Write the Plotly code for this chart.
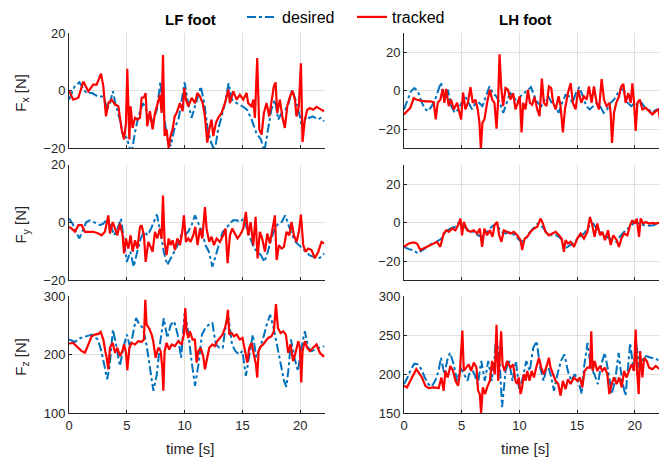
import plotly.graph_objects as go

# ---------------- data ----------------
# LF foot, Fx
lf_fx_des_t = [0,0.5,0.9,1.2,1.5,2.0,2.5,3.0,3.3,3.5,3.8,4.0,4.4,4.7,5.0,5.4,5.7,6.0,6.4,6.8,7.2,7.6,7.9,8.2,8.5,8.8,9.1,9.5,9.8,10.0,10.3,10.6,10.9,11.2,11.4,11.7,12.0,12.3,12.6,12.9,13.2,13.5,13.8,14.1,14.5,15.0,15.4,15.8,16.2,16.6,16.9,17.2,17.5,17.8,18.1,18.4,18.7,19.0,19.3,19.6,19.9,20.2,20.5,20.8,21.1,21.5,21.8,22.1]
lf_fx_des = [-3.1,1.5,2.9,0.9,-0.8,-0.8,-2.0,-2.0,-6.6,-4.8,-0.2,-4.3,-10.0,-15.7,-16.3,-22,-14.6,-8.9,-4.3,-7.7,-11.1,-6.6,2.9,-7.7,-16.9,-19.2,-13.4,-9.4,-2.0,2.9,-4.3,-9.4,-5.4,-1.4,1.5,-4.3,-13.4,-18.0,-21,-13.4,-8.9,-4.3,2.6,-3.1,-4.3,-5.4,-6.6,-10.0,-14.6,-16.9,-21,-13.4,-6.6,-3.1,-10.0,-7.7,-6.6,-4.3,0.3,-3.1,-7.7,-13.4,-8.9,-9.4,-8.9,-10.0,-9.4,-10.6]
lf_fx_trk_t = [0,0.37,0.81,1.24,1.67,2.10,2.39,2.77,2.97,3.20,3.40,3.69,3.98,4.27,4.55,4.76,4.93,5.04,5.22,5.33,5.50,5.71,5.91,6.14,6.28,6.48,6.63,6.77,7.00,7.23,7.44,7.64,7.87,8.01,8.13,8.27,8.44,8.62,8.79,8.96,9.14,9.31,9.60,9.83,9.97,10.12,10.32,10.61,10.89,11.10,11.33,11.56,11.76,11.96,12.13,12.33,12.48,12.71,12.91,13.20,13.49,13.78,13.92,14.21,14.50,14.78,15.07,15.36,15.50,15.79,15.94,16.08,16.28,16.46,16.66,16.86,17.09,17.32,17.52,17.72,17.87,18.01,18.24,18.47,18.67,18.88,19.11,19.34,19.54,19.68,19.88,20.06,20.20,20.40,20.61,20.84,21.12,21.41,21.70,22.07]
lf_fx_trk = [0,-3.1,-2.4,3.2,-0.2,2.1,2.1,5.9,1.5,-8.9,-4.3,-3.1,-4.8,-5.4,-13.4,-16.9,-11.1,7.6,-16.9,-5.4,-12.9,-9.4,-10,-9.4,-2.5,-2.3,-0.8,-12.3,-7.1,-13.4,-7.7,-4.3,-1.4,-7.7,12.4,-15.7,-13.4,-19.8,-15.7,-13.4,-8.9,-7.7,-4.3,-7.1,0.9,-3.1,-5.4,-2.5,-4.3,-0.8,-2,-4.3,-8.9,-18,-13.4,-10,-15.7,-11.1,-9.4,-7.7,-4.3,0.4,-4.3,-0.2,-3.1,-1.4,-3.1,-0.8,-4.3,-5.4,-3.1,-9.4,11.3,-13.4,-15.2,-7.7,-4.3,-8.9,-3.1,1.5,2.9,-7.7,-3.1,-9.4,-12.9,-5.4,-2,0,-3.1,-8.9,-5.4,9.5,-17.8,-10,-6.6,-6,-6.6,-5.6,-6.3,-7.1]

# LH foot, Fx
lh_fx_des_t = [0,0.3,0.6,0.9,1.2,1.5,1.8,2.1,2.4,2.7,3.0,3.2,3.5,3.8,4.1,4.4,4.7,5.0,5.3,5.6,5.9,6.2,6.5,6.8,7.1,7.4,7.7,8.0,8.3,8.6,8.9,9.2,9.5,9.8,10.1,10.4,10.7,11.0,11.3,11.6,11.9,12.2,12.5,12.8,13.1,13.4,13.7,14.0,14.3,14.6,14.9,15.2,15.5,15.8,16.1,16.4,16.7,17.0,17.3,17.6,17.9,18.2,18.5,18.8,19.1,19.4,19.7,20.0,20.3,20.6,20.9,21.2,21.5,21.8,22.1]
lh_fx_des = [-9.7,-4.6,-0.3,1.4,-0.3,-5.5,-9.4,-10.6,-8.0,-4.6,0.5,4.3,-4.6,0.5,-8.0,-11.5,-9.7,-6.3,-2.9,-6.3,-9.7,-6.3,-6.3,-8.0,-2.9,2.2,-1.2,-2.9,-6.3,-11.5,-6.3,-1.2,-2.9,-6.3,-2.9,-1.2,0.5,1.9,-2.9,-6.3,-8.0,-4.6,-2.9,-6.3,-8.0,-11.5,-6.3,-2.1,-2.9,-6.3,-1.2,1.9,-2.9,-8.0,-9.7,-8.0,-6.3,-8.0,-11.5,-9.7,-6.3,-4.6,-1.2,1.4,-0.3,-6.3,-8.0,-6.3,-8.0,-6.3,-8.9,-9.7,-11.5,-10.1,-9.4]
lh_fx_trk_t = [0,0.26,0.55,0.84,1.07,1.42,1.85,2.29,2.58,2.75,2.92,3.15,3.36,3.50,3.65,3.88,4.08,4.31,4.60,4.95,5.12,5.32,5.53,5.76,5.96,6.19,6.39,6.54,6.66,6.80,6.97,7.20,7.44,7.64,7.84,8.02,8.16,8.28,8.42,8.59,8.80,9.00,9.23,9.46,9.66,9.87,10.04,10.19,10.33,10.53,10.74,10.91,11.11,11.31,11.55,11.75,11.95,12.12,12.35,12.56,12.76,12.93,13.14,13.40,13.57,13.77,13.95,14.21,14.44,14.64,14.87,15.10,15.36,15.59,15.83,16.03,16.26,16.46,16.70,16.90,17.13,17.33,17.56,17.80,17.91,18.03,18.20,18.40,18.63,18.84,19.01,19.21,19.44,19.65,19.79,19.94,20.08,20.23,20.43,20.66,20.95,21.24,21.53,21.82,22.05,22.16]
lh_fx_trk = [-12.3,-10.6,-8.9,-3.8,-4.6,-5.1,-5.5,-5.5,-6.0,-14.9,-6.3,-4.6,0.9,-6.3,0.9,-8.0,-4.6,-9.7,-6.3,-14.9,-0.9,-9.7,-6.3,1.9,-6.3,-4.6,-9.7,-16.6,-30.4,-16.6,-14.9,-6.3,0.5,-4.6,-6.3,-19.7,-4.6,19.0,2.2,-8.0,1.4,0.5,-4.6,-1.2,-9.7,-6.3,-2.9,-21.7,-6.3,-9.7,0.5,-6.3,-7.2,-3.2,-9.7,-13.2,6.3,-6.3,-8.0,2.2,1.4,-6.3,-9.7,-2.9,-8.0,-21.7,-9.7,-1.2,3.9,-6.3,-9.7,0.5,-6.3,-2.9,-4.6,2.2,-6.3,2.2,-6.3,-9.7,6.0,-4.6,-8.0,-6.3,-11.5,-27.2,-11.5,-6.3,-2.9,2.2,3.6,-6.3,-1.2,-6.3,3.9,-6.3,-20.9,-6.3,-4.6,-9.7,-8.9,-10.6,-12.3,-10.6,-9.7,-14.0]

# LF foot, Fy
lf_fy_des_t = [0,0.3,0.6,0.9,1.2,1.5,1.8,2.1,2.4,2.7,3.0,3.3,3.6,3.9,4.2,4.5,4.8,5.0,5.3,5.6,5.9,6.2,6.5,6.8,7.1,7.4,7.6,7.9,8.2,8.5,8.8,9.1,9.4,9.7,10.0,10.3,10.6,10.9,11.2,11.5,11.8,12.1,12.4,12.7,13.0,13.3,13.6,13.9,14.2,14.5,14.8,15.1,15.4,15.7,16.0,16.3,16.6,16.9,17.2,17.5,17.8,18.1,18.4,18.7,19.0,19.3,19.6,19.9,20.2,20.5,20.8,21.1,21.4,21.7,22.1]
lf_fy_des = [1.4,-0.3,-3.2,-5.5,-2.6,0.2,0.8,0.2,-0.3,-0.9,-0.3,1.4,-0.9,-4.4,-2.1,1.4,-7.8,-13.6,-10.1,-15.3,-10.1,-5.5,-3.2,-4.4,-2.1,0.8,2.8,-3.2,-10.1,-14.7,-12.4,-10.1,-7.8,-4.4,-4.4,-3.2,-0.9,2.5,-0.3,-3.2,-7.8,-10.1,-15.3,-11.3,-6.7,-3.2,-2.1,-0.3,0.8,0.8,0.2,1.4,-2.1,-5.5,-9.0,-10.1,-11.3,-13.6,-10.1,-5.5,-2.1,-0.3,0.2,2.5,-0.9,-4.4,-6.7,-7.8,-9.0,-10.1,-11.3,-11.8,-12.4,-12.2,-10.7]
lf_fy_trk_t = [0,0.23,0.52,0.81,1.10,1.38,1.67,2.10,2.54,2.82,3.11,3.40,3.54,3.78,3.98,4.18,4.41,4.64,4.76,4.93,5.13,5.33,5.50,5.71,5.91,6.14,6.28,6.48,6.63,6.86,7.06,7.23,7.44,7.64,7.87,8.01,8.13,8.27,8.44,8.62,8.79,8.96,9.16,9.37,9.60,9.80,9.94,10.12,10.32,10.52,10.75,10.92,11.12,11.33,11.53,11.76,11.90,12.13,12.33,12.54,12.77,13.05,13.34,13.54,13.72,13.92,14.12,14.35,14.58,14.78,15.07,15.30,15.50,15.71,15.94,16.14,16.31,16.51,16.71,16.95,17.15,17.38,17.58,17.81,17.96,18.16,18.39,18.59,18.82,19.05,19.25,19.45,19.68,19.88,20.06,20.26,20.46,20.69,20.98,21.27,21.56,21.84,22.07]
lf_fy_trk = [-1.5,-2.1,-3.2,-0.9,-0.9,-3.2,-3.2,-3.2,-3.8,-4.4,-3.2,2.5,-3.8,0.2,-2.1,-4.4,-0.3,-4.4,-10.7,-5.5,-9.0,-4.4,-10.1,-6.1,-9.0,-1.5,-0.9,-4.4,-13.6,-6.7,-8.4,-10.1,-3.2,-5.5,-2.1,-5.5,9.4,-6.7,-11.3,-5.5,-7.8,-6.1,-9.5,-5.5,-7.8,-3.2,2.5,-6.7,-5.5,-6.7,-4.4,-1.5,-7.8,-2.1,-5.5,5.4,-2.1,-6.7,-4.9,-7.8,-5.5,-6.7,-4.4,-2.1,-14.1,-4.4,-2.1,-3.8,-5.5,-4.4,-2.1,3.7,-4.4,0.2,-7.8,2.0,-12.4,-3.2,-5.5,-10.1,-3.8,-7.2,-2.1,2.5,-13.0,-7.8,-9.0,-8.4,-3.2,-4.4,0.2,-4.4,-6.7,-3.2,2.8,-7.8,-10.1,-9.0,-9.5,-12.4,-10.1,-6.7,-7.2]

# LH foot, Fy
lh_fy_des_t = [0,0.4,0.8,1.2,1.6,2.0,2.4,2.8,3.2,3.6,4.0,4.4,4.8,5.2,5.6,6.0,6.4,6.8,7.2,7.6,8.0,8.4,8.8,9.2,9.6,10.0,10.4,10.8,11.2,11.6,12.0,12.4,12.8,13.2,13.6,14.0,14.4,14.8,15.2,15.6,16.0,16.4,16.8,17.2,17.6,18.0,18.4,18.8,19.2,19.6,20.0,20.4,20.8,21.2,21.6,22.1]
lh_fy_des = [-12.6,-13.8,-14.3,-16.0,-14.3,-12.6,-10.9,-10.0,-8.6,-4.8,-3.1,-2.2,0.3,-2.2,-4.0,-4.8,-6.6,-7.4,-4.8,-2.2,-0.5,-4.8,-5.7,-4.8,-6.6,-9.1,-10.0,-5.7,-3.1,-0.5,-2.2,-5.7,-6.6,-6.6,-8.3,-13.4,-11.7,-10.0,-7.4,-5.7,-2.2,-0.5,-4.0,-5.7,-7.4,-9.1,-10.0,-6.6,-4.0,-2.2,0.3,-0.5,-1.4,-1.7,-1.4,-0.2]
lh_fy_trk_t = [0,0.41,0.84,1.13,1.42,1.71,2.00,2.29,2.58,2.86,3.15,3.30,3.44,3.67,3.88,4.17,4.46,4.75,4.89,5.03,5.18,5.47,5.76,6.05,6.34,6.57,6.77,6.97,7.20,7.44,7.67,7.84,8.07,8.25,8.45,8.65,8.94,9.23,9.52,9.81,10.10,10.24,10.45,10.68,10.97,11.26,11.55,11.83,12.04,12.27,12.56,12.85,13.14,13.43,13.66,13.86,14.00,14.21,14.44,14.73,15.02,15.31,15.60,15.89,16.12,16.32,16.52,16.75,16.99,17.19,17.42,17.68,17.91,18.14,18.43,18.63,18.84,19.07,19.36,19.59,19.79,19.99,20.17,20.37,20.51,20.72,20.95,21.24,21.53,21.82,22.16]
lh_fy_trk = [-12.6,-10.9,-10.3,-10.9,-14.3,-13.4,-12.6,-11.7,-10.9,-10.0,-12.6,-9.1,-5.7,-4.0,-4.8,-3.1,-4.0,-0.5,2.1,-6.6,0.3,-4.0,-4.8,-4.0,-5.7,-3.1,-12.6,-3.1,-6.6,-4.0,-7.4,-1.4,0.3,-6.6,-10.0,-4.0,-4.8,-5.7,-4.8,-6.6,-9.1,-14.3,-8.3,-7.4,-4.8,-3.1,-2.2,2.1,-0.5,-4.8,-6.6,-5.7,-4.8,-6.6,-8.3,-15.2,-9.1,-10.9,-10.0,-12.6,-8.3,-5.7,-8.3,-4.8,2.9,-1.4,-7.4,-0.5,-6.6,-4.8,-9.1,-4.0,-11.7,-6.6,-9.1,-12.6,-8.3,-5.7,-6.6,-1.4,1.2,-0.5,2.1,-7.4,2.1,-0.5,0.3,-0.5,-0.2,-0.5,0]

# LF foot, Fz
lf_fz_des_t = [0,0.5,1.0,1.5,2.0,2.5,2.8,3.1,3.3,3.5,3.8,4.1,4.4,4.7,5.0,5.3,5.6,5.8,6.1,6.4,6.7,7.0,7.3,7.6,7.9,8.2,8.5,8.8,9.1,9.4,9.7,10.0,10.3,10.6,10.9,11.2,11.5,11.8,12.1,12.4,12.7,13.0,13.3,13.6,13.8,14.1,14.4,14.7,15.0,15.3,15.6,15.9,16.2,16.5,16.8,17.1,17.4,17.7,18.0,18.3,18.6,18.8,19.0,19.2,19.5,19.8,20.1,20.4,20.7,21.0,21.3,21.6,22.1]
lf_fz_des = [226.1,222.1,228.9,231.7,234.6,226.1,206.2,177.9,158.1,177.9,243.1,214.7,180.7,211.9,234.6,211.9,245.9,262.9,251.6,245.9,217.6,177.9,138.2,166.6,223.2,262.9,228.9,251.6,257.2,234.6,194.9,271.4,240.2,189.2,146.7,183.6,234.6,245.9,251.6,254.4,217.6,211.9,211.9,257.2,262.9,217.6,206.2,200.6,206.2,163.7,200.6,234.6,194.9,211.9,228.9,251.6,268.6,245.9,217.6,189.2,155.2,145.0,177.9,226.1,194.9,172.2,211.9,240.2,211.9,206.2,209.1,211.9,214.7]
lf_fz_trk_t = [0,0.37,0.66,1.10,1.38,1.67,1.96,2.25,2.54,2.74,2.97,3.14,3.26,3.40,3.54,3.78,3.98,4.18,4.41,4.61,4.76,4.93,5.04,5.22,5.42,5.71,5.99,6.28,6.48,6.60,6.71,6.92,7.15,7.29,7.49,7.72,7.93,8.07,8.16,8.27,8.44,8.67,8.88,9.16,9.45,9.74,9.94,10.06,10.17,10.32,10.46,10.69,10.89,11.04,11.18,11.38,11.61,11.76,11.90,12.13,12.39,12.62,12.82,13.05,13.28,13.49,13.63,13.75,13.86,14.06,14.27,14.50,14.78,15.01,15.22,15.42,15.59,15.79,15.99,16.17,16.28,16.40,16.60,16.80,17.00,17.23,17.52,17.72,17.90,18.07,18.30,18.53,18.76,18.96,19.16,19.39,19.63,19.83,19.97,20.09,20.20,20.40,20.61,20.84,21.12,21.41,21.70,21.99,22.07]
lf_fz_trk = [219.3,220.4,214.7,206.2,203.4,217.6,231.7,234.6,235.7,239.1,226.1,206.2,194.9,175.1,211.9,220.4,203.4,211.9,197.7,206.2,217.6,203.4,173.4,211.9,220.4,217.6,223.2,222.1,226.1,294.1,251.6,245.9,234.6,223.2,194.9,211.9,206.2,177.9,138.2,206.2,220.4,209.1,217.6,214.7,223.2,217.6,234.6,279.9,240.2,228.9,240.2,226.1,226.1,186.4,206.2,211.9,197.7,175.1,189.2,211.9,217.6,214.7,223.2,228.9,234.6,245.9,257.2,277.1,234.6,237.4,231.7,234.6,226.1,228.9,203.4,186.4,211.9,220.4,200.6,183.6,160.9,206.2,214.7,217.6,223.2,228.9,231.7,240.2,286.7,245.9,237.4,240.2,234.6,203.4,217.6,189.2,206.2,223.2,211.9,152.4,206.2,223.2,211.9,206.2,211.9,217.6,203.4,197.7,199.4]

# LH foot, Fz
lh_fz_des_t = [0,0.3,0.6,0.9,1.2,1.5,1.8,2.1,2.4,2.7,3.0,3.2,3.5,3.8,4.0,4.3,4.6,4.9,5.2,5.5,5.8,6.1,6.4,6.7,7.0,7.3,7.6,7.8,8.0,8.3,8.5,8.8,9.1,9.4,9.7,10.0,10.3,10.6,10.9,11.2,11.5,11.8,12.1,12.4,12.7,13.0,13.3,13.6,13.9,14.2,14.5,14.8,15.1,15.4,15.6,15.9,16.2,16.5,16.8,17.1,17.4,17.7,18.0,18.3,18.6,18.9,19.2,19.4,19.6,19.9,20.1,20.4,20.7,21.0,21.4,21.8,22.1]
lh_fz_des = [187.3,195.8,206.4,213.6,212.7,206.4,195.8,187.3,183.9,191.5,204.2,221.2,200.0,221.2,227.6,212.7,191.5,208.5,200.0,191.5,208.5,200.0,187.3,217.0,191.5,217.0,191.5,212.7,251.0,212.7,157.5,204.2,217.0,191.5,217.0,178.8,195.8,217.0,204.2,234.0,242.5,208.5,191.5,212.7,200.0,178.8,200.0,217.0,225.5,204.2,191.5,200.0,191.5,174.5,208.5,240.4,208.5,200.0,187.3,212.7,227.6,204.2,174.5,191.5,227.6,191.5,172.4,212.7,240.4,204.2,242.5,208.5,221.2,223.4,221.2,220.4,217.0]
lh_fz_trk_t = [0,0.26,0.55,0.84,1.07,1.27,1.56,1.85,2.14,2.58,3.01,3.24,3.44,3.59,3.79,4.02,4.25,4.46,4.69,4.83,4.98,5.06,5.18,5.38,5.61,5.82,6.05,6.28,6.42,6.57,6.68,6.83,7.03,7.20,7.44,7.64,7.87,8.02,8.16,8.30,8.42,8.54,8.71,8.94,9.23,9.46,9.66,9.81,9.95,10.10,10.24,10.39,10.53,10.68,10.88,11.06,11.26,11.46,11.69,11.89,12.12,12.41,12.56,12.70,12.93,13.14,13.37,13.57,13.77,14.00,14.21,14.44,14.73,15.02,15.25,15.45,15.65,15.89,16.12,16.23,16.35,16.52,16.75,16.99,17.19,17.42,17.62,17.80,18.00,18.20,18.43,18.66,18.87,19.07,19.27,19.50,19.73,19.94,20.08,20.20,20.34,20.46,20.66,20.81,21.04,21.24,21.53,21.82,22.16]
lh_fz_trk = [185.1,183.0,191.5,200.0,206.4,202.1,195.8,185.1,182.2,183.0,182.2,195.8,178.8,204.2,195.8,210.6,204.2,191.5,185.1,200.0,234.0,256.1,204.2,208.5,212.7,204.2,214.9,208.5,178.8,174.5,149.9,183.0,174.5,183.0,191.5,217.0,200.0,263.7,191.5,221.2,255.2,212.7,204.2,217.0,208.5,212.7,191.5,187.3,195.8,174.5,183.0,200.0,191.5,204.2,191.5,204.2,195.8,208.5,221.2,208.5,200.0,212.7,221.2,208.5,200.0,191.5,187.3,172.4,191.5,180.9,193.6,187.3,195.8,191.5,195.8,183.0,204.2,208.5,208.5,255.2,204.2,217.0,204.2,210.6,204.2,208.5,200.0,174.5,187.3,195.8,187.3,195.8,183.0,204.2,195.8,204.2,212.7,204.2,257.4,204.2,174.5,229.7,195.8,221.2,217.0,208.5,206.4,210.6,206.4]

x_range = [0, 22.1]
x_ticks = [0, 5, 10, 15, 20]
panel_titles = ["LF foot", "LH foot"]
row_labels = ["F<sub>x</sub> [N]", "F<sub>y</sub> [N]", "F<sub>z</sub> [N]"]
x_label = "time [s]"
series_names = ["desired", "tracked"]

panels = [
    # (row, col, desired t, desired, tracked t, tracked, y range, y ticks)
    (0, 0, lf_fx_des_t, lf_fx_des, lf_fx_trk_t, lf_fx_trk, [-20, 20], [-20, 0, 20]),
    (0, 1, lh_fx_des_t, lh_fx_des, lh_fx_trk_t, lh_fx_trk, [-30, 30], [-20, 0, 20]),
    (1, 0, lf_fy_des_t, lf_fy_des, lf_fy_trk_t, lf_fy_trk, [-20, 20], [-20, 0, 20]),
    (1, 1, lh_fy_des_t, lh_fy_des, lh_fy_trk_t, lh_fy_trk, [-30, 30], [-20, 0, 20]),
    (2, 0, lf_fz_des_t, lf_fz_des, lf_fz_trk_t, lf_fz_trk, [100, 300], [100, 200, 300]),
    (2, 1, lh_fz_des_t, lh_fz_des, lh_fz_trk_t, lh_fz_trk, [150, 300], [150, 200, 250, 300]),
]

# ---------------- layout geometry ----------------
W, H = 665, 460
col_dom = [(69 / W, 324.5 / W), (404 / W, 659 / W)]
row_px = [(29.3, 145.7), (162.3, 278.7), (295.0, 412.7)]
row_dom = [(1 - b / H, 1 - t / H) for (t, b) in row_px]

BLUE = "#0072BD"
RED = "#FF0000"
AX = "#262626"
GRID = "#dfdfdf"
FONT = "Liberation Sans"

legend_style = dict(orientation="h", y=1 - 13 / H, xanchor="left", yanchor="middle",
                    font=dict(family=FONT, size=16, color="#000000"),
                    bgcolor="rgba(0,0,0,0)", itemwidth=30)

fig = go.Figure()
layout = dict(
    width=W, height=H,
    margin=dict(l=0, r=0, t=0, b=0),
    paper_bgcolor="white", plot_bgcolor="white",
    font=dict(family=FONT, size=13, color=AX),
    showlegend=True,
    legend=dict(x=242 / W, **legend_style),
    legend2=dict(x=352 / W, **legend_style),
    annotations=[],
)

for k, (r, c, td, vd, tt, vt, yr, yt) in enumerate(panels):
    i = k + 1
    xa = "x" if i == 1 else f"x{i}"
    ya = "y" if i == 1 else f"y{i}"
    fig.add_trace(go.Scatter(x=td, y=vd, mode="lines", name=series_names[0],
                             line=dict(color=BLUE, width=2, dash="dashdot"),
                             xaxis=xa, yaxis=ya, showlegend=(k == 0), legend="legend"))
    fig.add_trace(go.Scatter(x=tt, y=vt, mode="lines", name=series_names[1],
                             line=dict(color=RED, width=2.2),
                             xaxis=xa, yaxis=ya, showlegend=(k == 0), legend="legend2"))
    layout[f"xaxis{i if i > 1 else ''}"] = dict(
        domain=list(col_dom[c]), anchor=ya, range=x_range, tickvals=x_ticks,
        showticklabels=(r == 2), showgrid=True, gridcolor=GRID, gridwidth=1,
        showline=True, linecolor=AX, linewidth=1, ticks="inside", ticklen=3,
        tickcolor=AX, zeroline=False, tickfont=dict(family=FONT, size=13, color=AX),
        automargin=False, fixedrange=True,
    )
    layout[f"yaxis{i if i > 1 else ''}"] = dict(
        domain=list(row_dom[r]), anchor=xa, range=yr, tickvals=yt,
        showgrid=True, gridcolor=GRID, gridwidth=1,
        showline=True, linecolor=AX, linewidth=1, ticks="inside", ticklen=3,
        tickcolor=AX, zeroline=False, tickfont=dict(family=FONT, size=13, color=AX),
        automargin=False, fixedrange=True,
    )

# panel titles
for c, txt in enumerate(panel_titles):
    xc = [191, 525][c]
    layout["annotations"].append(dict(text=f"<b>{txt}</b>", x=xc / W, y=1 - 16 / H,
                                      xref="paper", yref="paper", showarrow=False,
                                      font=dict(family=FONT, size=15, color="#000000"),
                                      xanchor="center", yanchor="middle"))
# y labels
for r, txt in enumerate(row_labels):
    yc = (row_px[r][0] + row_px[r][1]) / 2 + 2
    layout["annotations"].append(dict(text=txt, x=22 / W, y=1 - yc / H, xref="paper", yref="paper",
                                      showarrow=False, textangle=-90,
                                      font=dict(family=FONT, size=15, color=AX),
                                      xanchor="center", yanchor="middle"))
# x labels
for c in range(2):
    xc = [190, 525][c]
    layout["annotations"].append(dict(text=x_label, x=xc / W, y=1 - 448 / H, xref="paper", yref="paper",
                                      showarrow=False, font=dict(family=FONT, size=15, color=AX),
                                      xanchor="center", yanchor="middle"))

fig.update_layout(**layout)
fig.write_html("out.html")
